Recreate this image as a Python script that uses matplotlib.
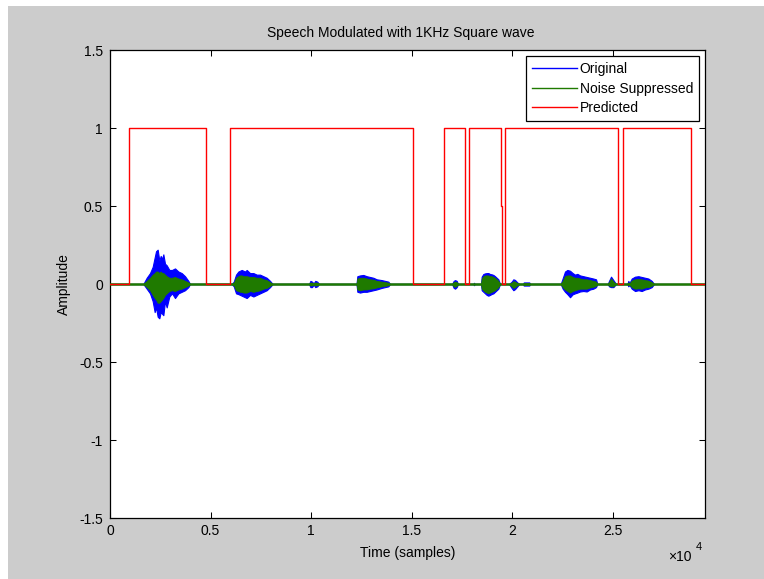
import matplotlib.pyplot as plt
import matplotlib.patches as mpatches
import numpy as np

plt.rcParams["font.family"] = ["Liberation Sans", "DejaVu Sans"]
plt.rcParams["font.size"] = 10

# signal length (samples) and axis ticks
n_samples = 29570
x_ticks = [0, 5000, 10000, 15000, 20000, 25000]
x_tick_labels = ["0", "0.5", "1", "1.5", "2", "2.5"]
y_ticks = [-1.5, -1, -0.5, 0, 0.5, 1, 1.5]
y_tick_labels = ["-1.5", "-1", "-0.5", "0", "0.5", "1", "1.5"]

# envelope of the speech bursts (sample index, amplitude)
env_t = [
    1657, 1823, 1988, 2121, 2220, 2287, 2370, 2452, 2519, 2585, 2651, 2734, 2817, 2949, 3082, 3231, 3397, 3563, 3728, 3894, 3977,
    6048, 6150, 6263, 6379, 6462, 6545, 6628, 6711, 6794, 6959, 7125, 7291, 7456, 7622, 7788, 7953, 8086,
    9890, 9960, 10040, 10120, 10200, 10300, 10390,
    12250, 12292, 12425, 12591, 12757, 12922, 13088, 13254, 13502, 13668, 13834, 13917,
    17000, 17080, 17150, 17230, 17300,
    18060, 18090, 18120,
    18440, 18472, 18555, 18637, 18720, 18803, 18886, 18969, 19052, 19134, 19217, 19300, 19383,
    19830, 19963, 20045, 20128, 20244, 20343,
    20530, 20560, 20840, 20870,
    22398, 22497, 22613, 22729, 22862, 22994, 23110, 23226, 23359, 23524, 23690, 23856, 24021, 24154, 24220,
    24735, 24801, 24900, 25016, 25148,
    25712, 25760, 25810, 25928, 26093, 26259, 26425, 26590, 26756, 26922, 27038,
]
orig_top = [
    0, .04, .07, .11, .17, .21, .22, .15, .18, .16, .19, .13, .12, .09, .09, .10, .08, .07, .05, .02, 0,
    0, .015, .06, .08, .085, .09, .085, .08, .09, .07, .07, .06, .06, .05, .04, .02, 0,
    0, .02, .015, .004, .02, .015, 0,
    0, .05, .055, .058, .05, .045, .04, .03, .025, .02, .015, 0,
    0, .02, .025, .02, 0,
    0, .008, 0,
    0, .047, .064, .068, .07, .07, .064, .062, .058, .05, .04, .03, 0,
    0, .015, .03, .026, .01, 0,
    0, .01, .01, 0,
    0, .036, .08, .09, .085, .07, .06, .065, .055, .05, .045, .04, .035, .03, 0,
    0, .02, .047, .025, 0,
    0, .02, .005, .035, .047, .05, .045, .04, .035, .02, 0,
]
orig_bot = [
    0, -.03, -.06, -.11, -.18, -.15, -.21, -.22, -.18, -.19, -.20, -.11, -.15, -.08, -.06, -.09, -.06, -.05, -.04, -.02, 0,
    0, -.015, -.06, -.065, -.07, -.075, -.08, -.085, -.09, -.07, -.08, -.07, -.06, -.05, -.04, -.02, 0,
    0, -.02, -.02, -.004, -.02, -.015, 0,
    0, -.05, -.055, -.05, -.05, -.045, -.04, -.035, -.025, -.02, -.015, 0,
    0, -.025, -.03, -.02, 0,
    0, -.008, 0,
    0, -.04, -.05, -.06, -.07, -.075, -.07, -.064, -.06, -.05, -.04, -.03, 0,
    0, -.026, -.04, -.033, -.015, 0,
    0, -.01, -.01, 0,
    0, -.03, -.05, -.065, -.085, -.066, -.06, -.055, -.048, -.045, -.048, -.035, -.03, -.02, 0,
    0, -.015, -.02, -.02, 0,
    0, -.015, -.005, -.03, -.045, -.04, -.045, -.035, -.03, -.02, 0,
]
sup_top = [
    0, .02, .04, .06, .07, .08, .08, .07, .08, .07, .07, .06, .05, .04, .04, .045, .035, .03, .02, .01, 0,
    0, .008, .04, .05, .055, .055, .05, .05, .05, .045, .045, .04, .04, .03, .025, .012, 0,
    0, .01, .008, .002, .01, .008, 0,
    0, .035, .04, .04, .035, .03, .028, .02, .015, .012, .008, 0,
    0, .012, .015, .012, 0,
    0, .004, 0,
    0, .035, .05, .055, .055, .055, .05, .05, .045, .04, .03, .02, 0,
    0, .008, .018, .015, .005, 0,
    0, .005, .005, 0,
    0, .02, .05, .055, .055, .045, .04, .04, .035, .03, .03, .025, .02, .015, 0,
    0, .012, .035, .015, 0,
    0, .01, .003, .022, .03, .032, .03, .025, .022, .012, 0,
]
sup_bot = [
    0, -.02, -.04, -.07, -.09, -.10, -.12, -.12, -.11, -.10, -.09, -.07, -.06, -.045, -.04, -.045, -.035, -.03, -.02, -.01, 0,
    0, -.008, -.04, -.045, -.05, -.05, -.055, -.055, -.055, -.045, -.05, -.045, -.04, -.03, -.025, -.012, 0,
    0, -.01, -.008, -.002, -.01, -.008, 0,
    0, -.035, -.04, -.035, -.035, -.03, -.028, -.022, -.015, -.012, -.008, 0,
    0, -.015, -.018, -.012, 0,
    0, -.004, 0,
    0, -.03, -.04, -.05, -.055, -.06, -.055, -.05, -.045, -.04, -.03, -.02, 0,
    0, -.015, -.025, -.02, -.008, 0,
    0, -.005, -.005, 0,
    0, -.02, -.035, -.045, -.055, -.045, -.04, -.035, -.03, -.03, -.03, -.022, -.018, -.012, 0,
    0, -.01, -.015, -.015, 0,
    0, -.008, -.003, -.02, -.03, -.028, -.03, -.022, -.02, -.012, 0,
]

# predicted speech/no-speech decision: change points and level after each
pred_t = [0, 944, 4756, 5979, 15045, 16600, 17620, 17843, 19408, 19483, 19617, 25249, 25482, 28877]
pred_v = [0, 1, 0, 1, 0, 1, 0, 1, 0.5, 0, 1, 0, 1, 0]

gray = "#cccccc"
W, H = 764, 579
fig = plt.figure(figsize=(W / 100, H / 100), dpi=100)
fig.patch.set_facecolor("white")
fig.patches.append(mpatches.Rectangle((8 / W, 0), 1 - 8 / W, 1 - 6 / H,
                                      transform=fig.transFigure, facecolor=gray,
                                      edgecolor="none", zorder=-10))

ax = fig.add_axes([110 / W, (H - 518) / H, (705 - 110) / W, (518 - 50) / H])
ax.set_facecolor("white")

# original (blue) and noise suppressed (green)
ax.fill_between(env_t, orig_bot, orig_top, color="#0000ff", lw=0.8, zorder=2)
l_orig, = ax.plot([0, n_samples], [0, 0], color="#0000ff", lw=1.0, zorder=2,
                  label="Original")
ax.fill_between(env_t, sup_bot, sup_top, color="#1f7a00", lw=0.6, zorder=3)
l_sup, = ax.plot([0, n_samples], [0, 0], color="#1f7a00", lw=1.8, zorder=3,
                 label="Noise Suppressed")

# predicted as a step line
pt = np.array(pred_t + [n_samples])
pv = np.array(pred_v)
step_x = np.repeat(pt, 2)[1:-1]
step_y = np.repeat(pv, 2)
l_pred, = ax.plot(step_x, step_y, color="#ff0000", lw=1.0, zorder=4,
                  label="Predicted")

ax.set_xlim(0, n_samples)
ax.set_ylim(-1.5, 1.5)
ax.set_xticks(x_ticks)
ax.set_xticklabels(x_tick_labels)
ax.set_yticks(y_ticks)
ax.set_yticklabels(y_tick_labels)
ax.tick_params(direction="in", length=4, width=0.75, top=True, right=True,
               labelsize=10, colors="black")
ax.tick_params(axis="y", pad=5)
ax.tick_params(axis="x", pad=4)
for s in ax.spines.values():
    s.set_linewidth(0.9)
    s.set_color("black")

ax.set_xlabel("Time (samples)", fontsize=10, labelpad=6)
ax.set_ylabel("Amplitude", fontsize=10, labelpad=6)
ax.set_title("Speech Modulated with 1KHz Square wave", fontsize=10, pad=9,
             x=0.488)

ax.text(0.957, -0.083, "\u00d710", transform=ax.transAxes, fontsize=10,
        ha="center", va="center")
ax.text(0.99, -0.061, "4", transform=ax.transAxes, fontsize=8,
        ha="center", va="center")

leg = ax.legend(handles=[l_orig, l_sup, l_pred], loc="upper right",
                fontsize=10, fancybox=False, framealpha=1, edgecolor="black",
                handlelength=3.2, handletextpad=0.2, borderpad=0.42,
                labelspacing=0.4, borderaxespad=0.45)
leg.get_frame().set_linewidth(0.9)
for h in leg.legend_handles:
    h.set_linewidth(1.0)

fig.savefig("out.png", dpi=100, facecolor=fig.get_facecolor())
